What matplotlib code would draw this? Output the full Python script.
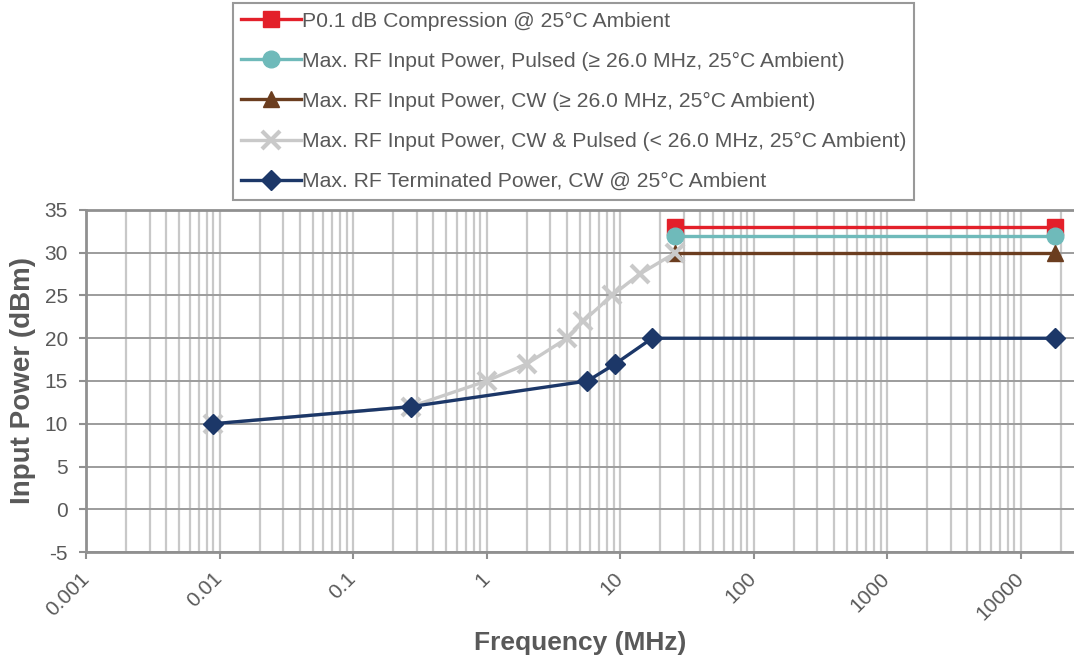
import numpy as np
import matplotlib.pyplot as plt
from matplotlib.ticker import LogLocator, FixedLocator

plt.rcParams['font.family'] = ['Liberation Sans', 'DejaVu Sans']
plt.rcParams['axes.unicode_minus'] = False

# data
f_p01 = [26, 18000]
p_p01 = [33, 33]

f_pulsed = [26, 18000]
p_pulsed = [32, 32]

f_cw = [26, 18000]
p_cw = [30, 30]

f_low = [0.009, 0.27, 1, 2, 4, 5.3, 8.7, 14, 26]
p_low = [10, 12, 15, 17, 20, 22, 25, 27.5, 30]

f_term = [0.009, 0.27, 5.7, 9.2, 17.4, 18000]
p_term = [10, 12, 15, 17, 20, 20]

labels = ['P0.1 dB Compression @ 25°C Ambient',
          'Max. RF Input Power, Pulsed (≥ 26.0 MHz, 25°C Ambient)',
          'Max. RF Input Power, CW (≥ 26.0 MHz, 25°C Ambient)',
          'Max. RF Input Power, CW & Pulsed (< 26.0 MHz, 25°C Ambient)',
          'Max. RF Terminated Power, CW @ 25°C Ambient']
x_ticks = [0.001, 0.01, 0.1, 1, 10, 100, 1000, 10000]
x_ticklabels = ['0.001', '0.01', '0.1', '1', '10', '100', '1000', '10000']

txt = '#595959'
fig = plt.figure(figsize=(10.74, 6.6), dpi=100)
ax = fig.add_axes([86/1074, 108/660, 988/1074, 342/660])

lw = 2.4
ax.plot(f_p01, p_p01, color='#E3202A', lw=lw, marker='s', ms=11, label=labels[0], zorder=3)
ax.plot(f_pulsed, p_pulsed, color='#6FBABA', lw=lw, marker='o', ms=12, label=labels[1], zorder=4)
ax.plot(f_cw, p_cw, color='#6B3D1F', lw=lw, marker='^', ms=12, label=labels[2], zorder=5)
ax.plot(f_low, p_low, color='#C9C9C9', lw=lw, marker='x', ms=13, mew=3, label=labels[3], zorder=6)
ax.plot(f_term, p_term, color='#1C3768', lw=lw, marker='D', ms=10, label=labels[4], zorder=7)

ax.set_xscale('log')
ax.set_xlim(0.001, 10**4.40)
ax.set_ylim(-5, 35)
ax.set_yticks(np.arange(-5, 36, 5))
ax.xaxis.set_major_locator(FixedLocator(x_ticks))
ax.set_xticklabels(x_ticklabels, rotation=45, ha='right', va='center',
                   rotation_mode='anchor')
ax.xaxis.set_minor_locator(LogLocator(base=10, subs=np.arange(2, 10)))

ax.grid(True, axis='x', which='both', color='#C8C8C8', lw=1.6)
ax.grid(True, axis='y', which='major', color='#9C9C9C', lw=1.4)
ax.set_axisbelow(True)

for s in ['left', 'bottom', 'top']:
    ax.spines[s].set_color('#909090')
    ax.spines[s].set_linewidth(2)
ax.spines['right'].set_visible(False)
ax.tick_params(axis='both', which='major', direction='out', length=5, width=1.5,
               color='#909090', labelcolor=txt, labelsize=15)
ax.tick_params(axis='y', pad=8)
ax.tick_params(axis='x', which='minor', length=0)
ax.tick_params(axis='x', pad=12)

ax.set_xlabel('Frequency (MHz)', fontsize=19, fontweight='bold', color=txt, labelpad=5)
ax.set_ylabel('Input Power (dBm)', fontsize=20, fontweight='bold', color=txt, labelpad=6)

leg = fig.legend(loc='upper left', bbox_to_anchor=(233/1074, 1 - 3/660),
                 fontsize=15.2, frameon=True, fancybox=False, handlelength=2.8,
                 handletextpad=0.05, labelspacing=1.0, borderpad=0.4,
                 borderaxespad=0)
leg.get_frame().set_edgecolor('#808080')
leg.get_frame().set_linewidth(1.5)
for t in leg.get_texts():
    t.set_color(txt)

fig.savefig('out.png', dpi=100)
